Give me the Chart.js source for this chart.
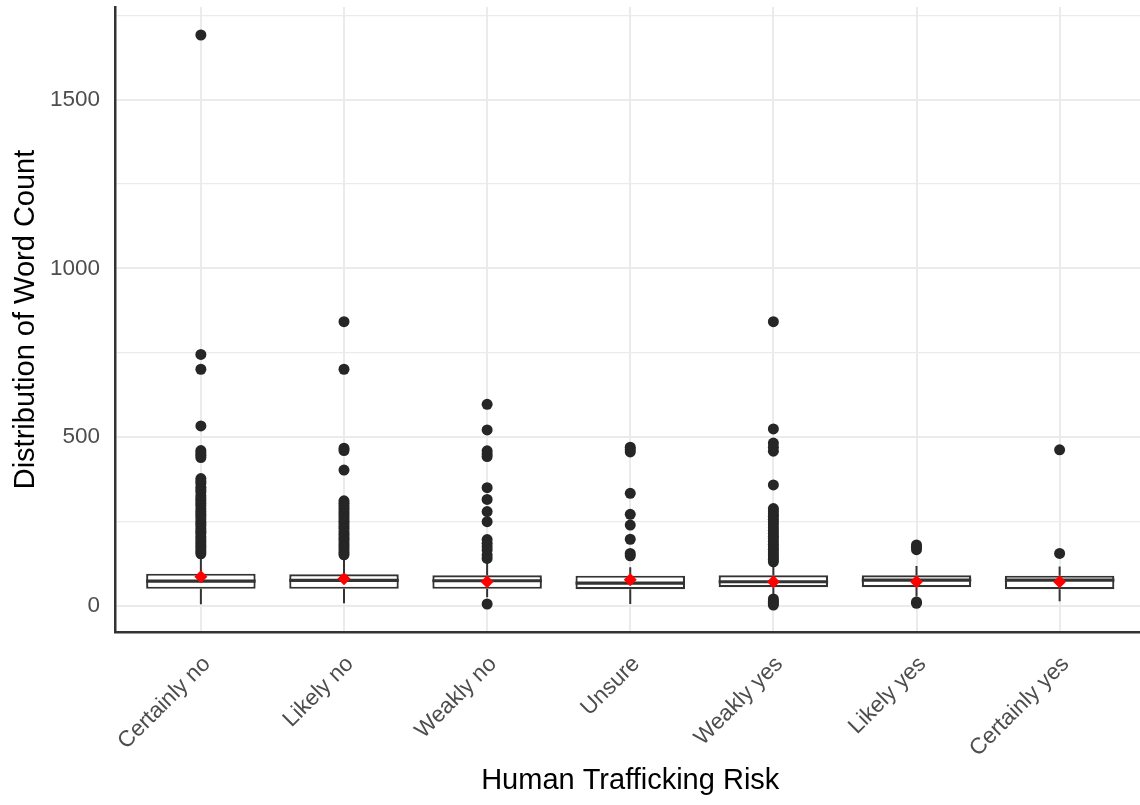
<!DOCTYPE html>
<html>
<head>
<meta charset="utf-8">
<title>Distribution of Word Count by Human Trafficking Risk</title>
<script src="https://cdn.jsdelivr.net/npm/chart.js@4/dist/chart.umd.min.js"></script>
<style>
  html, body { margin: 0; padding: 0; background: #ffffff; overflow: hidden; }
  /* the plot panel runs slightly past the right edge of the frame, which crops it */
  #wrap { width: 1140px; height: 805px; overflow: hidden; }
  #chart { display: block; }
</style>
</head>
<body>
<div id="wrap"><canvas id="chart" width="1152" height="805"></canvas></div>
<script>
// Risk categories along the x axis
const categories = ['Certainly no', 'Likely no', 'Weakly no', 'Unsure', 'Weakly yes', 'Likely yes', 'Certainly yes'];

// Five-number summaries per category (word counts)
const lowerWhisker = [4, 7, 25, 5, 25, 27, 13];
const q1           = [50, 50, 50, 49, 55, 55, 49];
const medians      = [73, 75, 74, 67, 71, 76, 76];
const q3           = [95, 93, 90, 89, 90, 90, 89];
const upperWhisker = [148, 147, 137, 114, 125, 118, 116];

// Mean word count per category
const means = [86, 80, 71, 77, 71, 71, 71];

// Points beyond the whiskers
const outliersCertainlyNo = [1692, 745, 701, 533, 460, 453, 446, 439, 377, 369, 362, 351, 344, 337, 326, 318, 311, 303,
  296, 287, 279, 272, 266, 258, 249, 243, 236, 228, 221, 214, 205, 198, 190, 183, 176, 169, 161, 154];
const outliersLikelyNo = [842, 701, 467, 460, 402, 311, 304, 296, 289, 281, 273, 266, 258, 250, 243, 235, 228, 219,
  212, 204, 197, 189, 181, 174, 166, 158, 151];
const outliersWeaklyNo = [597, 521, 459, 450, 442, 350, 315, 279, 249, 196, 185, 175, 165, 150, 140, 5];
const outliersUnsure = [470, 463, 456, 333, 271, 239, 197, 155, 148];
const outliersWeaklyYes = [842, 524, 482, 470, 458, 358, 288, 281, 272, 265, 256, 248, 240, 231, 223, 214, 206, 199,
  190, 182, 174, 167, 159, 151, 144, 137, 130, 20, 13, 7, 2];
const outliersLikelyYes = [180, 173, 166, 11, 7];
const outliersCertainlyYes = [462, 155];
const outliers = [outliersCertainlyNo, outliersLikelyNo, outliersWeaklyNo, outliersUnsure,
  outliersWeaklyYes, outliersLikelyYes, outliersCertainlyYes];

// Y axis ticks: labelled majors every 500, unlabelled minors between
const yTicks = [0, 250, 500, 750, 1000, 1250, 1500, 1750];
const yMajorStep = 500;

const BOX_WIDTH = 0.765; // in category units
const FONT = '"Liberation Sans", Arial, Helvetica, sans-serif';
Chart.defaults.font.family = FONT;

// Category i sits at x = i + 1 on a linear axis
const pos = i => i + 1;

const boxData = categories.map((c, i) => ({ x: pos(i), y: [q1[i], q3[i]] }));

const whiskerData = [];
categories.forEach((c, i) => {
  whiskerData.push({ x: pos(i), y: q3[i] }, { x: pos(i), y: upperWhisker[i] }, { x: pos(i), y: null });
  whiskerData.push({ x: pos(i), y: q1[i] }, { x: pos(i), y: lowerWhisker[i] }, { x: pos(i), y: null });
});

const medianData = [];
categories.forEach((c, i) => {
  medianData.push({ x: pos(i) - BOX_WIDTH / 2, y: medians[i] }, { x: pos(i) + BOX_WIDTH / 2, y: medians[i] }, { x: pos(i), y: null });
});

const outlierData = [];
outliers.forEach((vals, i) => vals.forEach(v => outlierData.push({ x: pos(i), y: v })));

const meanData = means.map((m, i) => ({ x: pos(i), y: m }));

new Chart(document.getElementById('chart'), {
  type: 'scatter',
  data: {
    datasets: [
      { type: 'scatter', label: 'Mean', data: meanData, pointStyle: 'rectRot', pointRadius: 6.5,
        backgroundColor: '#FF0000', borderWidth: 0, order: 0 },
      { type: 'scatter', label: 'Outliers', data: outlierData, pointRadius: 5.5,
        backgroundColor: '#262626', borderWidth: 0, order: 1 },
      { type: 'line', label: 'Median', data: medianData, borderColor: '#333333', borderWidth: 3.2,
        pointRadius: 0, spanGaps: false, borderCapStyle: 'butt', order: 2 },
      { type: 'bar', label: 'IQR', data: boxData, backgroundColor: '#FFFFFF', borderColor: '#333333',
        borderWidth: 2.2, borderSkipped: false, barPercentage: BOX_WIDTH, categoryPercentage: 1, order: 3 },
      { type: 'line', label: 'Whiskers', data: whiskerData, borderColor: '#333333', borderWidth: 2,
        pointRadius: 0, spanGaps: false, borderCapStyle: 'butt', order: 4 }
    ]
  },
  options: {
    responsive: false,
    animation: false,
    devicePixelRatio: 1,
    events: [],
    layout: { padding: { top: 7, right: 0, bottom: 0, left: 0 } },
    plugins: { legend: { display: false }, tooltip: { enabled: false } },
    scales: {
      x: {
        type: 'linear',
        min: 0.4,
        max: 7.6,
        offset: false,
        afterBuildTicks: s => { s.ticks = categories.map((c, i) => ({ value: pos(i) })); },
        afterFit: s => { s.height = 173; s.paddingLeft = 0; s.paddingRight = 0; },
        ticks: {
          autoSkip: false,
          minRotation: 45,
          maxRotation: 45,
          padding: 19,
          labelOffset: 6,
          color: '#4D4D4D',
          font: { size: 22.5 },
          callback: v => categories[v - 1]
        },
        grid: { offset: false, color: '#EBEBEB', lineWidth: 2, drawTicks: false },
        border: { display: true, color: '#333333', width: 2.5 },
        title: {
          display: true,
          text: 'Human Trafficking Risk',
          color: '#000000',
          font: { size: 29 },
          align: 'center',
          padding: { top: 0, bottom: 7 }
        }
      },
      y: {
        type: 'linear',
        min: -78,
        max: 1775,
        afterBuildTicks: s => { s.ticks = yTicks.map(v => ({ value: v })); },
        afterFit: s => { s.width = 115; s.paddingTop = 0; s.paddingBottom = 0; },
        ticks: {
          padding: 15,
          color: '#4D4D4D',
          font: { size: 22.5 },
          callback: v => (v % yMajorStep === 0 ? String(v) : '')
        },
        grid: {
          color: '#EBEBEB',
          lineWidth: ctx => (ctx.tick && ctx.tick.value % yMajorStep === 0 ? 2 : 1.3),
          drawTicks: false
        },
        border: { display: true, color: '#333333', width: 2.5 },
        title: {
          display: true,
          text: 'Distribution of Word Count',
          color: '#000000',
          font: { size: 29 },
          padding: { top: 9, bottom: 0 }
        }
      }
    }
  }
});
</script>
</body>
</html>
